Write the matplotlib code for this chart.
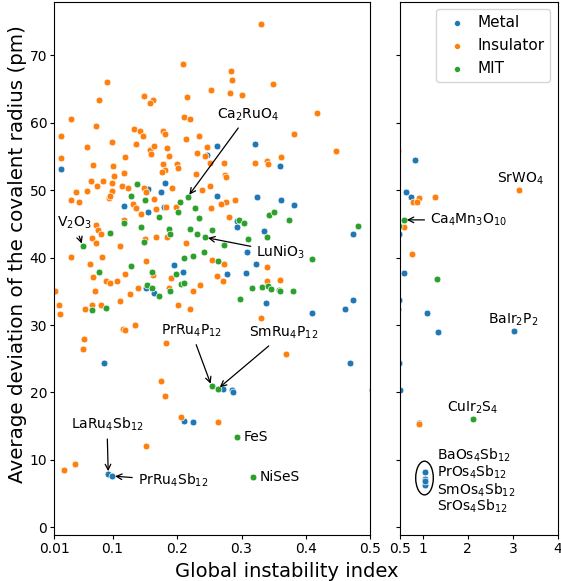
import numpy as np
import matplotlib
matplotlib.use('Agg')
import matplotlib.pyplot as plt
from matplotlib.patches import Ellipse

# Metal
metal_x = [0.2615, 0.2469, 0.0201, 0.1813, 0.1545, 0.1747, 0.2624, 0.1178, 0.1545, 0.1802,
           0.1953, 0.3213, 0.3591, 0.324, 0.3616, 0.3818, 0.2925, 0.2925, 0.3348, 0.4733,
           0.3085, 0.3224, 0.2088, 0.1519, 0.1643, 0.0872, 0.277, 0.3069, 0.3379, 0.4092,
           0.4609, 0.4733, 0.4686, 0.2708, 0.2852, 0.2872, 0.2112, 0.2247, 0.0934, 0.0996,
           0.826, 0.633, 0.737, 0.589, 1.092, 1.349, 3.028, 0.92, 1.054, 1.048, 1.048, 1.05,
           0.502]
metal_y = [56.6, 55.2, 53.1, 51.0, 50.2, 49.7, 49.2, 47.6, 46.8, 47.5,
           38.9, 56.9, 53.6, 49.0, 48.5, 47.8, 45.5, 44.6, 44.0, 43.5,
           40.8, 39.1, 37.8, 35.5, 34.7, 24.4, 37.5, 37.7, 33.3, 31.8,
           32.4, 33.7, 24.4, 20.5, 20.3, 20.1, 15.8, 15.6, 7.9, 7.6,
           54.5, 49.7, 49.0, 37.7, 31.8, 28.9, 29.1, 15.5, 8.2, 7.1, 6.2, 6.9,
           20.3]

# Insulator
insulator_x = [0.331, 0.2088, 0.2832, 0.2857, 0.0919, 0.3483, 0.2526, 0.2816, 0.1483, 0.3015,
               0.2154, 0.0785, 0.1632, 0.1585, 0.4174, 0.2103, 0.0351, 0.2196, 0.0748, 0.1337,
               0.1426, 0.1778, 0.0201, 0.1467, 0.1813, 0.234, 0.3809, 0.0992, 0.1359, 0.1581,
               0.1592, 0.1638, 0.184, 0.188, 0.2143, 0.2464, 0.2314, 0.2438, 0.4469, 0.0609,
               0.0201, 0.1198, 0.0697, 0.1012, 0.1787, 0.2004, 0.2015, 0.1813, 0.1762, 0.1182,
               0.1022, 0.2289, 0.2511, 0.2723, 0.3213, 0.339, 0.3415, 0.3612, 0.2739, 0.2764,
               0.0661, 0.0857, 0.0764, 0.1151, 0.1235, 0.0992, 0.1483, 0.0433, 0.0609, 0.0987,
               0.1514, 0.1926, 0.2382, 0.2515, 0.094, 0.0965, 0.036, 0.048, 0.1317, 0.1359,
               0.1647, 0.1674, 0.1824, 0.1988, 0.2522, 0.2894, 0.2754, 0.2677, 0.1436, 0.1178,
               0.2805, 0.0743, 0.0779, 0.0816, 0.0677, 0.1669, 0.1498, 0.184, 0.0739, 0.1111,
               0.2143, 0.0356, 0.0836, 0.065, 0.1519, 0.2537, 0.2733, 0.339, 0.0697, 0.0898,
               0.0956, 0.1074, 0.1193, 0.1627, 0.1902, 0.139, 0.1271, 0.1875, 0.2351, 0.2243,
               0.2615, 0.0103, 0.0728, 0.1111, 0.017, 0.019, 0.0573, 0.0686, 0.0826, 0.2015,
               0.2205, 0.1157, 0.1188, 0.1348, 0.0557, 0.0542, 0.1829, 0.1756, 0.1818, 0.2712,
               0.3399, 0.3601, 0.3297, 0.3694, 0.2061, 0.263, 0.1514, 0.0418, 0.0247,
               0.915, 1.283, 0.782, 0.877, 3.14, 0.595, 0.766, 0.921]
insulator_y = [74.6, 68.7, 67.7, 66.3, 66.1, 65.8, 64.9, 64.5, 64.0, 64.1,
               63.9, 63.4, 63.4, 62.9, 61.4, 60.9, 60.5, 60.6, 59.6, 59.1,
               58.8, 58.8, 58.1, 58.1, 58.4, 58.0, 58.4, 57.1, 56.9, 56.0,
               55.4, 56.6, 56.2, 55.1, 57.6, 56.4, 55.5, 55.1, 55.8, 56.4,
               54.8, 54.9, 53.8, 53.6, 53.9, 53.9, 53.3, 53.0, 52.7, 52.6,
               52.1, 52.4, 54.1, 54.1, 54.1, 54.4, 53.9, 54.9, 52.2, 51.9,
               51.4, 51.4, 50.7, 50.7, 50.4, 51.0, 50.4, 49.7, 49.9, 49.9,
               49.7, 50.3, 50.0, 50.6, 48.8, 49.1, 48.5, 48.3, 47.9, 47.4,
               48.7, 47.2, 47.5, 47.5, 47.3, 48.5, 48.3, 47.9, 46.4, 45.6,
               46.1, 44.9, 44.1, 43.5, 42.9, 43.1, 42.8, 43.1, 42.1, 41.8,
               42.1, 40.1, 40.1, 39.1, 39.5, 39.7, 39.0, 38.6, 37.2, 36.5,
               36.2, 36.5, 37.5, 37.4, 37.0, 35.5, 34.6, 35.5, 35.9, 35.1,
               37.3, 35.1, 35.1, 33.6, 33.0, 31.7, 32.4, 33.0, 33.0, 33.0,
               32.4, 29.4, 29.3, 30.0, 27.9, 26.4, 27.3, 21.7, 19.5, 36.5,
               36.5, 36.7, 31.1, 25.7, 16.3, 15.6, 12.0, 9.4, 8.5,
               48.8, 49.0, 48.3, 48.2, 50.0, 44.5, 40.6, 15.3]

# MIT
mit_x = [0.1379, 0.1291, 0.1498, 0.205, 0.2165, 0.2283, 0.2019, 0.1725, 0.234, 0.1178,
         0.1446, 0.188, 0.2196, 0.2537, 0.0956, 0.1895, 0.2305, 0.2438, 0.0537, 0.1483,
         0.2413, 0.2243, 0.2108, 0.1286, 0.296, 0.3043, 0.3426, 0.3498, 0.3731, 0.481,
         0.3095, 0.3399, 0.2728, 0.263, 0.4097, 0.0795, 0.1607, 0.1984, 0.1539, 0.1612,
         0.1716, 0.1886, 0.2057, 0.2103, 0.0686, 0.0903, 0.3167, 0.3312, 0.3415, 0.3457,
         0.3576, 0.3596, 0.3798, 0.2977, 0.2537, 0.263, 0.2934, 0.3182,
         0.589, 1.32, 2.119]
mit_y = [50.9, 49.2, 48.6, 48.3, 49.0, 47.3, 46.8, 46.1, 45.9, 45.1,
         44.6, 44.2, 44.2, 44.1, 43.6, 43.5, 43.5, 43.0, 41.7, 42.3,
         40.8, 40.3, 40.0, 38.7, 45.6, 45.1, 46.3, 46.8, 45.6, 44.7,
         42.7, 43.0, 41.9, 39.5, 39.8, 37.8, 37.9, 37.6, 35.9, 35.5,
         34.3, 35.1, 36.1, 36.2, 32.3, 32.6, 35.5, 35.6, 35.8, 35.4,
         35.2, 35.1, 35.0, 33.8, 20.9, 20.5, 13.4, 7.5,
         45.6, 36.8, 16.1]

groups = [('Metal', metal_x, metal_y, '#1f77b4'),
          ('Insulator', insulator_x, insulator_y, '#ff7f0e'),
          ('MIT', mit_x, mit_y, '#2ca02c')]

fig = plt.figure(figsize=(5.61, 5.81), dpi=100)
ax1 = fig.add_axes([0.0971, 0.0792, 0.5633, 0.9182])
ax2 = fig.add_axes([0.713, 0.0792, 0.2816, 0.9182], sharey=ax1)

for ax in (ax1, ax2):
    for name, xs, ys, c in groups:
        ax.scatter(xs, ys, s=24, c=c, edgecolors='white', linewidths=0.5, label=name)
    ax.tick_params(labelsize=10, length=2.6, pad=2.6)

ax1.set_xlim(0.01, 0.5)
ax2.set_xlim(0.5, 4)
ax1.set_ylim(-1.15, 78.0)
ax1.set_xticks([0.01, 0.1, 0.2, 0.3, 0.4, 0.5])
ax1.set_xticklabels(['0.01', '0.1', '0.2', '0.3', '0.4', '0.5'])
ax1.set_yticks(np.arange(0, 80, 10))
ax2.set_xticks([0.5, 1, 2, 3, 4])
ax2.set_xticklabels(['0.5', '1', '2', '3', '4'])
plt.setp(ax2.get_yticklabels(), visible=False)

fig.text(0.031, 0.563, 'Average deviation of the covalent radius (pm)', fontsize=14.3,
         rotation=90, ha='center', va='center')
fig.text(0.512, 0.016, 'Global instability index', fontsize=14, ha='center', va='center')

arr = dict(arrowstyle='->', color='black', lw=0.9)
fs = 10
# annotations, left panel
ax1.annotate(r'Ca$_2$RuO$_4$', xy=(0.2165, 49.0), xytext=(0.31, 61.2), fontsize=fs,
             ha='center', va='center', arrowprops=arr)
ax1.annotate(r'LuNiO$_3$', xy=(0.2438, 43.0), xytext=(0.361, 40.8), fontsize=fs,
             ha='center', va='center', arrowprops=arr)
ax1.annotate(r'V$_2$O$_3$', xy=(0.0537, 41.7), xytext=(0.041, 45.2), fontsize=fs,
             ha='center', va='center', arrowprops=arr)
ax1.annotate(r'PrRu$_4$P$_{12}$', xy=(0.2537, 20.9), xytext=(0.2219, 29.1), fontsize=fs,
             ha='center', va='center', arrowprops=arr)
ax1.annotate(r'SmRu$_4$P$_{12}$', xy=(0.263, 20.5), xytext=(0.3658, 28.8), fontsize=fs,
             ha='center', va='center', arrowprops=arr)
ax1.annotate(r'LaRu$_4$Sb$_{12}$', xy=(0.0934, 7.9), xytext=(0.0914, 15.2), fontsize=fs,
             ha='center', va='center', arrowprops=arr)
ax1.annotate(r'PrRu$_4$Sb$_{12}$', xy=(0.0996, 7.6), xytext=(0.1937, 6.9), fontsize=fs,
             ha='center', va='center', arrowprops=arr)
ax1.text(0.304, 13.4, 'FeS', fontsize=fs, va='center')
ax1.text(0.3286, 7.5, 'NiSeS', fontsize=fs, va='center')

# annotations, right panel
ax2.text(3.16, 51.7, r'SrWO$_4$', fontsize=fs, ha='center', va='center')
ax2.annotate(r'Ca$_4$Mn$_3$O$_{10}$', xy=(0.589, 45.6), xytext=(1.165, 45.6), fontsize=fs,
             ha='left', va='center', arrowprops=arr)
ax2.text(3.017, 30.8, r'BaIr$_2$P$_2$', fontsize=fs, ha='center', va='center')
ax2.text(2.119, 17.7, r'CuIr$_2$S$_4$', fontsize=fs, ha='center', va='center')
os_labels = [r'BaOs$_4$Sb$_{12}$', r'PrOs$_4$Sb$_{12}$', r'SmOs$_4$Sb$_{12}$', r'SrOs$_4$Sb$_{12}$']
os_y = [10.6, 8.2, 5.5, 3.1]
for lab, yy in zip(os_labels, os_y):
    ax2.text(1.327, yy, lab, fontsize=fs, ha='left', va='center')
ax2.add_patch(Ellipse((1.043, 7.3), 0.39, 5.0, fill=False, edgecolor='black', lw=1.0))

ax2.legend(loc='upper right', fontsize=11, markerscale=0.9, handletextpad=0.3)

fig.savefig('out.png', dpi=100)
